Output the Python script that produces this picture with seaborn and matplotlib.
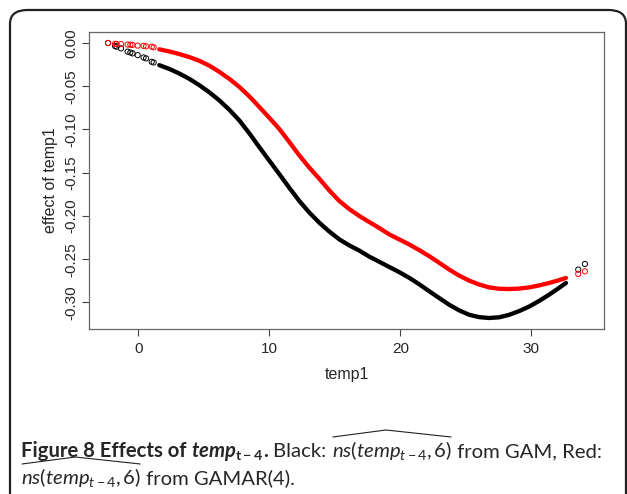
import matplotlib
matplotlib.use("Agg")
import matplotlib.pyplot as plt
from matplotlib.patches import FancyBboxPatch
from matplotlib.lines import Line2D
import pandas as pd
import seaborn as sns

# sparse points at the cold end
temp_lo = [-2.31, -1.78, -1.66, -1.32, -0.82, -0.61, -0.44, -0.05, 0.40, 0.59, 1.02, 1.17]
black_lo = [0.000, -0.0035, -0.0043, -0.0062, -0.0100, -0.0110, -0.0120, -0.0140, -0.0167, -0.0178, -0.0217, -0.0225]
red_lo = [0.000, -0.0010, -0.0010, -0.0012, -0.0018, -0.0020, -0.0022, -0.0030, -0.0033, -0.0038, -0.0042, -0.0050]

# dense part of the curves
temp_mid = [1.60, 2.37, 3.13, 3.90, 4.66, 5.42, 6.18, 6.95, 7.71, 8.48, 9.24, 10.00, 10.76, 11.53,
            12.29, 13.05, 13.82, 14.58, 15.34, 16.10, 16.87, 17.63, 18.40, 19.16, 19.93, 20.69,
            21.45, 22.21, 22.98, 23.74, 24.50, 25.27, 26.03, 26.79, 27.55, 28.32, 29.08, 29.85,
            30.61, 31.37, 32.00, 32.65]
black_mid = [-0.0256, -0.0300, -0.0353, -0.0415, -0.0488, -0.0570, -0.0663, -0.0772, -0.0895, -0.1045,
             -0.1205, -0.1360, -0.1515, -0.1675, -0.1826, -0.1960, -0.2078, -0.2180, -0.2270, -0.2340,
             -0.2400, -0.2470, -0.2530, -0.2590, -0.2650, -0.2716, -0.2790, -0.2870, -0.2950, -0.3027,
             -0.3092, -0.3143, -0.3170, -0.3180, -0.3172, -0.3143, -0.3100, -0.3047, -0.2982, -0.2910,
             -0.2845, -0.2775]
red_mid = [-0.0073, -0.0098, -0.0128, -0.0163, -0.0206, -0.0262, -0.0333, -0.0415, -0.0508, -0.0618,
           -0.0740, -0.0865, -0.0993, -0.1145, -0.1300, -0.1440, -0.1570, -0.1705, -0.1826, -0.1920,
           -0.2000, -0.2070, -0.2140, -0.2213, -0.2272, -0.2330, -0.2395, -0.2465, -0.2542, -0.2620,
           -0.2690, -0.2748, -0.2793, -0.2826, -0.2842, -0.2845, -0.2840, -0.2826, -0.2803, -0.2775,
           -0.2748, -0.2717]

# sparse points at the hot end
temp_hi = [33.59, 34.10]
black_hi = [-0.2620, -0.2555]
red_hi = [-0.2670, -0.2640]

sns.set_style("white")
plt.rcParams['font.family'] = ['Liberation Sans', 'DejaVu Sans']
plt.rcParams['mathtext.fontset'] = 'custom'
plt.rcParams['mathtext.rm'] = 'Lato'
plt.rcParams['mathtext.it'] = 'Lato:italic'
plt.rcParams['mathtext.bf'] = 'Lato:bold'
plt.rcParams['mathtext.bfit'] = 'Lato:bold:italic'

fig = plt.figure(figsize=(6.27, 4.94), dpi=100)
ax = fig.add_axes([89 / 627, 1 - 329 / 494, 515 / 627, 297 / 494])

# outer rounded frame of the figure panel
frame = FancyBboxPatch((10 / 627, -0.3), 616 / 627, 1.3 - 10 / 494,
                       boxstyle="round,pad=0,rounding_size=0.028",
                       transform=fig.transFigure, fill=False, ec='#222222', lw=1.6,
                       clip_on=False)
fig.patches.append(frame)

for vals_lo, vals_mid, vals_hi, col in [(black_lo, black_mid, black_hi, 'black'),
                                        (red_lo, red_mid, red_hi, '#ff0000')]:
    sns.lineplot(x=temp_mid, y=vals_mid, ax=ax, color=col, lw=3.1, sort=False)
    sparse = pd.DataFrame({'temp': temp_lo + temp_hi, 'eff': vals_lo + vals_hi})
    ax.scatter(sparse['temp'], sparse['eff'], s=14, facecolors='none', edgecolors=col, linewidths=0.7)

all_t = temp_lo + temp_mid + temp_hi
all_v = black_lo + black_mid + black_hi + red_lo + red_mid + red_hi
tr = max(all_t) - min(all_t)
vr = max(all_v) - min(all_v)
ax.set_xlim(min(all_t) - 0.04 * tr, max(all_t) + 0.04 * tr)
ax.set_ylim(min(all_v) - 0.04 * vr, max(all_v) + 0.04 * vr)

ax.set_xticks([0, 10, 20, 30])
ax.set_yticks([0.0, -0.05, -0.10, -0.15, -0.20, -0.25, -0.30])
ax.set_yticklabels(['0.00', '-0.05', '-0.10', '-0.15', '-0.20', '-0.25', '-0.30'],
                   rotation=90, va='center')
ax.tick_params(axis='both', direction='out', length=5, width=0.8, color='#444444',
               labelsize=11, bottom=True, left=True)
ax.tick_params(axis='x', pad=4)
ax.tick_params(axis='y', pad=3)
for sp in ax.spines.values():
    sp.set_color('#666666')
    sp.set_linewidth(0.9)
ax.set_xlabel('temp1', fontsize=11.5, labelpad=8)
ax.set_ylabel('effect of temp1', fontsize=11.5, labelpad=4)

# caption, written piece by piece
renderer = fig.canvas.get_renderer()
cap_size = 14.6
ns_math = r"$\mathit{ns}(\mathit{temp}_{t-4},6)$"


def put_line(pieces, x_px, base_px):
    x = x_px
    for txt, kw, hat in pieces:
        t = fig.text(x / 627, 1 - base_px / 494, txt, fontsize=cap_size, ha='left', va='baseline',
                     family='Lato', **kw)
        bb = t.get_window_extent(renderer)
        if hat:
            # wide hat drawn over the ns(...) term
            x0, x1 = bb.x0 + 1, bb.x1 - 1
            ytop = bb.y1 + 2
            hx = [x0 / 627, (x0 + 0.45 * (x1 - x0)) / 627, x1 / 627]
            hy = [ytop / 494, (ytop + 7) / 494, ytop / 494]
            fig.lines.append(Line2D(hx, hy, transform=fig.transFigure, color='#222222', lw=0.8))
        x = bb.x1


put_line([("Figure 8 Effects of ", {'weight': 'bold'}, False),
          (r"$\mathbfit{temp}_{\mathbf{t-4}}$", {}, False),
          (". ", {'weight': 'bold'}, False),
          ("Black: ", {}, False),
          (ns_math, {}, True),
          (" from GAM, Red:", {}, False)], 21, 457)
put_line([(ns_math, {}, True),
          (" from GAMAR(4).", {}, False)], 21, 484)

fig.savefig('out.png', dpi=100)
